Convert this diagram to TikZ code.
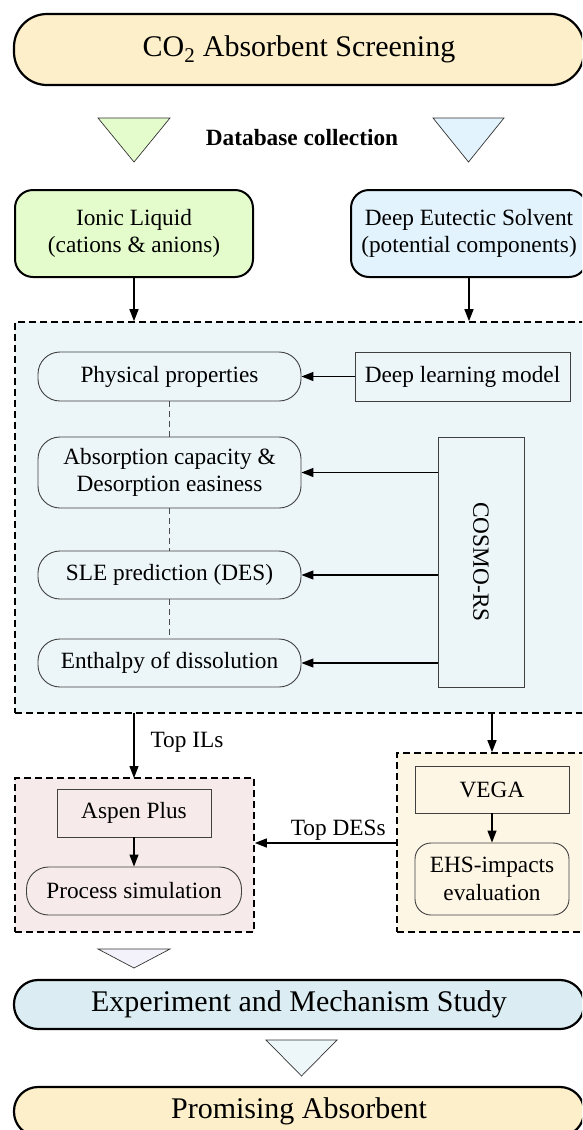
\documentclass[tikz,border=0pt]{standalone}
\usepackage{fontspec}
\usepackage{graphicx}
\setmainfont{Liberation Serif}
\usetikzlibrary{arrows.meta}
\definecolor{capO}{HTML}{FDEFC9}
\definecolor{ilG}{HTML}{E4FCCC}
\definecolor{desB}{HTML}{E2F3FD}
\definecolor{bigG}{HTML}{ECF5F8}
\definecolor{pinkG}{HTML}{F6EAEA}
\definecolor{yelG}{HTML}{FEF6E5}
\definecolor{lavT}{HTML}{F3F2FA}
\definecolor{expB}{HTML}{DBEDF3}
\definecolor{botT}{HTML}{EDF6F8}
\newcommand\fsBig{\fontsize{30}{34}\selectfont}
\newcommand\fsMid{\fontsize{23.3}{27.5}\selectfont}
\begin{document}
\begin{tikzpicture}[x=1pt,y=-1pt,
  capsule/.style={draw, line width=2.2pt, rounded corners=24pt, minimum width=570pt, inner sep=0pt, font=\fsBig},
  cat/.style={draw, line width=2pt, rounded corners=18pt, minimum width=238pt, minimum height=87pt, inner sep=0pt, align=center, font=\fsMid},
  ibox/.style={draw=black!75, line width=0.9pt, inner sep=0pt, align=center, font=\fsMid},
  iround/.style={ibox, rounded corners=22pt},
  grp/.style={draw, line width=1.6pt, dash pattern=on 7pt off 4pt, inner sep=0pt},
  arr/.style={-{Triangle[length=12pt,width=9pt]}, line width=1.2pt},
  conn/.style={draw=black!70, line width=0.9pt, dash pattern=on 6pt off 4pt},
  tri/.style={draw=black!80, line width=0.7pt},
  lbl/.style={inner sep=0pt, font=\fsMid}
]
\clip (0,0) rectangle (582,1130);
\useasboundingbox (0,0) rectangle (582,1130);

% top capsule
\node[capsule, fill=capO, minimum height=71pt, rounded corners=33pt] (top) at (299,49.5) {CO\textsubscript{2} Absorbent Screening};

% triangles
\draw[tri, fill=ilG] (98,118) -- (170,118) -- (134,162) -- cycle;
\draw[tri, fill=desB] (433,118) -- (504,118) -- (468.5,162) -- cycle;
\node[lbl, font=\fsMid\bfseries, anchor=base] (db) at (302,145) {Database collection};

% categories
\node[cat, fill=ilG] (IL) at (134,233.5) {Ionic Liquid\\(cations \& anions)};
\node[cat, fill=desB, minimum width=236pt] (DES) at (469,233.5) {Deep Eutectic Solvent\\(potential components)};

% big group
\node[grp, fill=bigG, minimum width=585pt, minimum height=391pt] (G) at (307.5,517.5) {};
\draw[arr] (IL.south) -- (IL.south |- G.north);
\draw[arr] (DES.south) -- (DES.south |- G.north);

\node[iround, minimum width=263pt, minimum height=49pt] (Ph) at (169.5,376.5) {Physical properties};
\node[ibox, minimum width=215pt, minimum height=49pt] (D) at (462.5,376.5) {Deep learning model};
\node[iround, minimum width=263pt, minimum height=71pt] (A) at (169.5,472.5) {Absorption capacity \&\\Desorption easiness};
\node[iround, minimum width=263pt, minimum height=48pt] (S) at (169.5,575) {SLE prediction (DES)};
\node[iround, minimum width=263pt, minimum height=48pt] (En) at (169.5,663) {Enthalpy of dissolution};
\node[ibox, minimum width=86pt, minimum height=250pt] (C) at (481,562) {\rotatebox{-90}{COSMO-RS}};

\draw[arr] (D.west) -- (Ph.east);
\draw[arr] (C.west |- A.east) -- (A.east);
\draw[arr] (C.west |- S.east) -- (S.east);
\draw[arr] (C.west |- En.east) -- (En.east);
\draw[conn] (Ph.south) -- (A.north);
\draw[conn] (A.south) -- (S.north);
\draw[conn] (S.south) -- (En.north);

% lower groups
\node[grp, fill=pinkG, minimum width=239pt, minimum height=154pt] (P) at (134.5,855) {};
\node[grp, fill=yelG, minimum width=203pt, minimum height=179pt] (Y) at (498.5,842.5) {};

\node[ibox, minimum width=154pt, minimum height=48pt] (As) at (134,813) {Aspen Plus};
\node[iround, minimum width=215pt, minimum height=48pt] (Pr) at (134,891) {Process simulation};
\node[ibox, minimum width=154pt, minimum height=47pt] (V) at (492,789.5) {VEGA};
\node[iround, rounded corners=16pt, minimum width=154pt, minimum height=72pt] (E) at (492,879) {EHS-impacts\\evaluation};

\draw[arr] (134,713) -- (134,778) node[lbl, pos=0.5, anchor=base west, xshift=16pt, yshift=-2pt] (til) {Top ILs};
\draw[arr] (V.north |- G.south) -- (V.north |- Y.north);
\draw[arr] (As.south) -- (Pr.north);
\draw[arr] (V.south) -- (E.north);
\draw[arr] (Y.west |- 0,843) -- (P.east |- 0,843) node[lbl, pos=0.41, anchor=base, yshift=8pt] (tdes) {Top DESs};

% bottom
\draw[tri, fill=lavT] (98,949) -- (170,949) -- (134,968) -- cycle;
\node[capsule, fill=expB, minimum height=49pt] (X) at (299,1004.5) {Experiment and Mechanism Study};
\draw[tri, fill=botT] (266,1040) -- (337,1040) -- (301.5,1076) -- cycle;
\node[capsule, fill=capO, minimum height=49pt] (PA) at (299,1111.5) {Promising Absorbent};
\end{tikzpicture}
\end{document}
